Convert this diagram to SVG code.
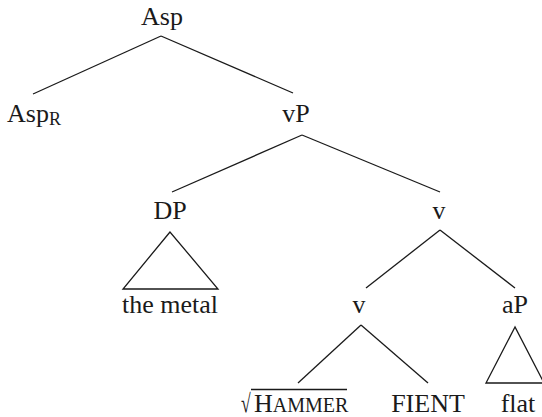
<svg xmlns="http://www.w3.org/2000/svg" width="542" height="417" viewBox="0 0 542 417">
<style>
text{font-family:"Liberation Serif","Times New Roman",serif;font-size:26px;fill:#1a1a1a}
.c{text-anchor:middle}
line,polygon{stroke:#1a1a1a;stroke-width:1.3;fill:none}
</style>
<rect width="542" height="417" fill="#fff"/>
<g id="connectors">
<line x1="161" y1="36" x2="33" y2="94"/>
<line x1="161" y1="36" x2="293" y2="93"/>
<line x1="302" y1="135" x2="172" y2="192"/>
<line x1="302" y1="135" x2="440" y2="192"/>
<line x1="440" y1="230" x2="366" y2="288"/>
<line x1="440" y1="230" x2="515" y2="288"/>
<line x1="361" y1="325" x2="298" y2="383"/>
<line x1="361" y1="325" x2="428" y2="383"/>
</g>
<g id="n-asp"><text class="c" x="162" y="25">Asp</text></g>
<g id="n-aspr"><text x="7" y="122">Asp<tspan font-size="18" dy="3">R</tspan></text></g>
<g id="n-vp"><text class="c" x="296" y="122">vP</text></g>
<g id="n-dp"><text class="c" x="170" y="219">DP</text>
<polygon points="170,232 123,289 218,289"/></g>
<g id="n-the-metal"><text class="c" x="170" y="313">the metal</text></g>
<g id="n-v1"><text class="c" x="439" y="219">v</text></g>
<g id="n-v2"><text class="c" x="359" y="313">v</text></g>
<g id="n-ap"><text class="c" x="515" y="313">aP</text>
<polygon points="515,327 486,383 544,383"/></g>
<g id="n-hammer"><text x="0" y="0" font-size="31" transform="translate(241,412) scale(0.68,1)">√</text><line x1="251" y1="389.5" x2="347" y2="389.5"/><text x="254" y="412">H<tspan font-size="20">AMMER</tspan></text></g>
<g id="n-fient"><text class="c" x="428" y="412">FIENT</text></g>
<g id="n-flat"><text class="c" x="518" y="412">flat</text></g>
</svg>
